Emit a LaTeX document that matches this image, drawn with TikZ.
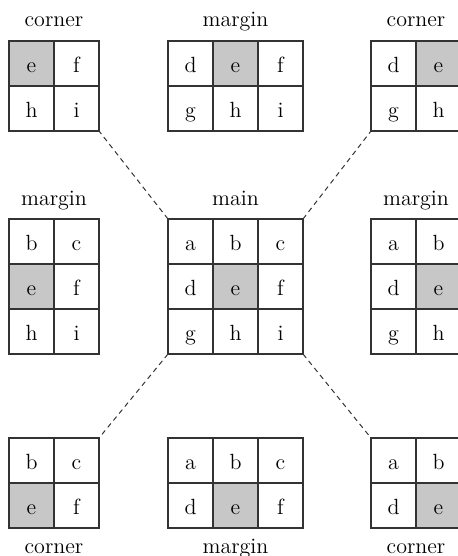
\documentclass[tikz,border=0pt]{standalone}
\usepackage{tikz}
\usetikzlibrary{positioning}

\begin{document}
\begin{tikzpicture}[
    x=0.5pt, y=-0.5pt,
    node distance=0pt,
    font=\fontsize{11}{13}\selectfont,
    cell/.style={rectangle, draw=black!80, line width=0.6pt, minimum size=22.5pt, inner sep=0pt, outer sep=0pt, text height=9.6pt, text depth=0.5pt},
    hl/.style={cell, fill=black!22},
    title/.style={anchor=base, inner sep=0pt},
    link/.style={draw=black!80, line width=0.5pt, dash pattern=on 2.5pt off 2pt},
]
\useasboundingbox (0,0) rectangle (458,556);

% top row
\node[hl] (tl-e) at (31.5,63.5) {e};
\node[cell, right=of tl-e] (tl-f) {f};
\node[cell, below=of tl-e] (tl-h) {h};
\node[cell, right=of tl-h] (tl-i) {i};
\node[above=7pt of tl-e.north east, title] (tl-label) {corner};

\node[cell] (tm-d) at (190.5,63.5) {d};
\node[hl, right=of tm-d] (tm-e) {e};
\node[cell, right=of tm-e] (tm-f) {f};
\node[cell, below=of tm-d] (tm-g) {g};
\node[cell, right=of tm-g] (tm-h) {h};
\node[cell, right=of tm-h] (tm-i) {i};
\node[above=7pt of tm-e.north, title] (tm-label) {margin};

\node[cell] (tr-d) at (393.5,63.5) {d};
\node[hl, right=of tr-d] (tr-e) {e};
\node[cell, below=of tr-d] (tr-g) {g};
\node[cell, right=of tr-g] (tr-h) {h};
\node[above=7pt of tr-d.north east, title] (tr-label) {corner};

% middle row
\node[cell] (ml-b) at (31.5,241.5) {b};
\node[cell, right=of ml-b] (ml-c) {c};
\node[hl, below=of ml-b] (ml-e) {e};
\node[cell, right=of ml-e] (ml-f) {f};
\node[cell, below=of ml-e] (ml-h) {h};
\node[cell, right=of ml-h] (ml-i) {i};
\node[above=7pt of ml-b.north east, title] (ml-label) {margin};

\node[cell] (m-a) at (190.5,241.5) {a};
\node[cell, right=of m-a] (m-b) {b};
\node[cell, right=of m-b] (m-c) {c};
\node[cell, below=of m-a] (m-d) {d};
\node[hl, right=of m-d] (m-e) {e};
\node[cell, right=of m-e] (m-f) {f};
\node[cell, below=of m-d] (m-g) {g};
\node[cell, right=of m-g] (m-h) {h};
\node[cell, right=of m-h] (m-i) {i};
\node[above=7pt of m-b.north, title] (m-label) {main};

\node[cell] (mr-a) at (393.5,241.5) {a};
\node[cell, right=of mr-a] (mr-b) {b};
\node[cell, below=of mr-a] (mr-d) {d};
\node[hl, right=of mr-d] (mr-e) {e};
\node[cell, below=of mr-d] (mr-g) {g};
\node[cell, right=of mr-g] (mr-h) {h};
\node[above=7pt of mr-a.north east, title] (mr-label) {margin};

% bottom row
\node[cell] (bl-b) at (31.5,460.5) {b};
\node[cell, right=of bl-b] (bl-c) {c};
\node[hl, below=of bl-b] (bl-e) {e};
\node[cell, right=of bl-e] (bl-f) {f};
\node[below=12.5pt of bl-e.south east, title] (bl-label) {corner};

\node[cell] (bm-a) at (190.5,460.5) {a};
\node[cell, right=of bm-a] (bm-b) {b};
\node[cell, right=of bm-b] (bm-c) {c};
\node[cell, below=of bm-a] (bm-d) {d};
\node[hl, right=of bm-d] (bm-e) {e};
\node[cell, right=of bm-e] (bm-f) {f};
\node[below=12.5pt of bm-e.south, title] (bm-label) {margin};

\node[cell] (br-a) at (393.5,460.5) {a};
\node[cell, right=of br-a] (br-b) {b};
\node[cell, below=of br-a] (br-d) {d};
\node[hl, right=of br-d] (br-e) {e};
\node[below=12.5pt of br-d.south east, title] (br-label) {corner};

% dashed links to the corners
\draw[link] (m-a.north west) -- (tl-i.south east);
\draw[link] (m-c.north east) -- (tr-g.south west);
\draw[link] (m-g.south west) -- (bl-c.north east);
\draw[link] (m-i.south east) -- (br-a.north west);

\end{tikzpicture}
\end{document}
